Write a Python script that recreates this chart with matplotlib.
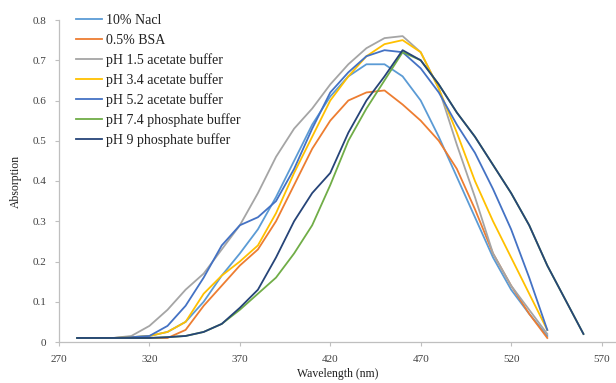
import matplotlib
matplotlib.use("Agg")
import matplotlib.pyplot as plt

wl = [280, 290, 300, 310, 320, 330, 340, 350, 360, 370, 380, 390, 400, 410,
      420, 430, 440, 450, 460, 470, 480, 490, 500, 510, 520, 530, 540]
wl_long = wl + [550, 560]

nacl = [0.01, 0.01, 0.01, 0.012, 0.015, 0.025, 0.05, 0.10, 0.165, 0.22, 0.28, 0.36, 0.45,
        0.54, 0.61, 0.66, 0.69, 0.69, 0.66, 0.60, 0.51, 0.41, 0.31, 0.21, 0.13, 0.07, 0.015]
bsa = [0.01, 0.01, 0.01, 0.01, 0.01, 0.01, 0.03, 0.09, 0.14, 0.19, 0.23, 0.30, 0.39,
       0.48, 0.55, 0.60, 0.62, 0.625, 0.59, 0.55, 0.50, 0.43, 0.33, 0.22, 0.14, 0.07, 0.01]
ph15 = [0.01, 0.01, 0.01, 0.015, 0.04, 0.08, 0.13, 0.17, 0.23, 0.29, 0.37, 0.46, 0.53,
        0.58, 0.64, 0.69, 0.73, 0.755, 0.76, 0.72, 0.63, 0.49, 0.36, 0.22, 0.14, 0.08, 0.02]
ph34 = [0.01, 0.01, 0.01, 0.012, 0.015, 0.025, 0.05, 0.12, 0.165, 0.20, 0.24, 0.32, 0.42,
        0.51, 0.60, 0.66, 0.71, 0.74, 0.75, 0.72, 0.63, 0.52, 0.40, 0.30, 0.21, 0.12, 0.03]
ph52 = [0.01, 0.01, 0.01, 0.012, 0.015, 0.04, 0.09, 0.16, 0.24, 0.29, 0.31, 0.35, 0.43,
        0.53, 0.62, 0.67, 0.71, 0.725, 0.72, 0.68, 0.62, 0.54, 0.47, 0.38, 0.28, 0.16, 0.03]
ph74 = [0.01, 0.01, 0.01, 0.01, 0.01, 0.012, 0.015, 0.025, 0.045, 0.08, 0.12, 0.16, 0.22,
        0.29, 0.39, 0.50, 0.58, 0.65, 0.72, 0.70, 0.64, 0.57, 0.51, 0.44, 0.37, 0.29, 0.19,
        0.105, 0.02]
ph9 = [0.01, 0.01, 0.01, 0.01, 0.01, 0.012, 0.015, 0.025, 0.045, 0.085, 0.13, 0.21, 0.30,
       0.37, 0.42, 0.52, 0.60, 0.66, 0.725, 0.70, 0.64, 0.57, 0.51, 0.44, 0.37, 0.29, 0.19,
       0.105, 0.02]

labels = ["10% Nacl", "0.5% BSA", "pH 1.5 acetate buffer", "pH 3.4 acetate buffer",
          "pH 5.2 acetate buffer", "pH 7.4 phosphate buffer", "pH 9 phosphate buffer"]
colors = ["#5B9BD5", "#ED7D31", "#A5A5A5", "#FFC000", "#4472C4", "#70AD47", "#264478"]
series = [(wl, nacl), (wl, bsa), (wl, ph15), (wl, ph34), (wl, ph52),
          (wl_long, ph74), (wl_long, ph9)]

xticks = [270, 320, 370, 420, 470, 520, 570]
yticks = [0, 0.1, 0.2, 0.3, 0.4, 0.5, 0.6, 0.7, 0.8]
ytick_labels = ["0", "0.1", "0.2", "0.3", "0.4", "0.5", "0.6", "0.7", "0.8"]

plt.rcParams['font.family'] = ['Liberation Serif', 'DejaVu Serif']

fig = plt.figure(figsize=(6.16, 3.83), dpi=100)
ax = fig.add_axes([59/616, 1 - 342/383, 1 - 59/616, (342 - 20)/383])

for (x, y), lab, c in zip(series, labels, colors):
    ax.plot(x, y, color=c, lw=1.3, label=lab, solid_joinstyle='round')

ax.set_xlim(270, 578)
ax.set_ylim(0, 0.8)
ax.set_xticks(xticks)
ax.set_xticklabels([str(t) for t in xticks])
ax.set_yticks(yticks)
ax.set_yticklabels(ytick_labels)

for s in ["top", "right"]:
    ax.spines[s].set_visible(False)
for s in ["left", "bottom"]:
    ax.spines[s].set_color("#BFBFBF")
    ax.spines[s].set_linewidth(0.9)
ax.tick_params(axis='both', colors="#BFBFBF", length=3, width=0.8, labelsize=8,
               labelcolor="#404040", pad=6)

ax.set_xlabel("Wavelength (nm)", fontsize=8.5, color="#202020", labelpad=3)
ax.set_ylabel("Absorption", fontsize=8.5, color="#202020", labelpad=8)

leg = ax.legend(loc="upper left", bbox_to_anchor=(0.02, 1.035), frameon=False,
                fontsize=10, handlelength=1.9, handletextpad=0.3, labelspacing=0.45,
                borderaxespad=0)
for t in leg.get_texts():
    t.set_color("#202020")

fig.savefig("out.png", dpi=100)
